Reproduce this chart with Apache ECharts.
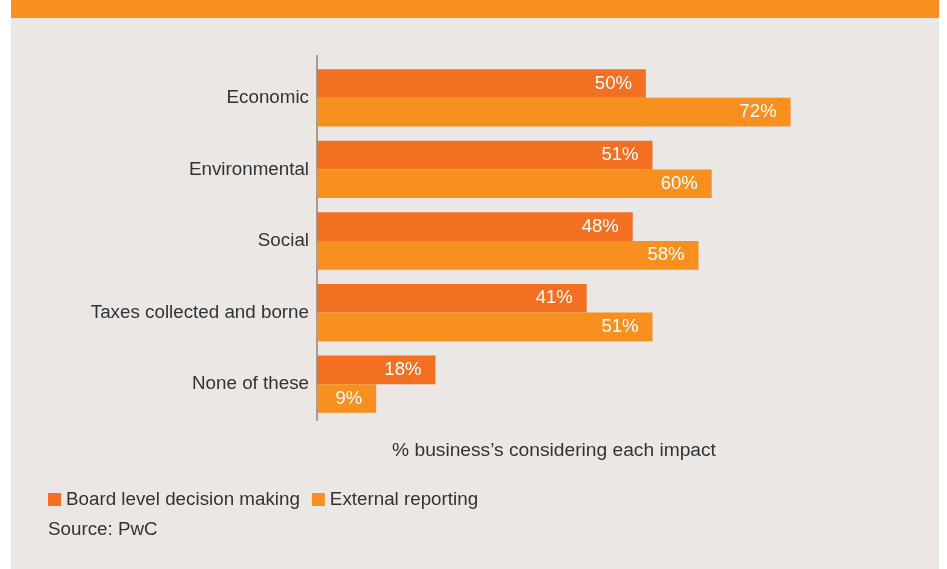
<!DOCTYPE html>
<html><head><meta charset="utf-8">
<script src="https://cdn.jsdelivr.net/npm/echarts@6/dist/echarts.min.js"></script>
<style>html,body{margin:0;padding:0;background:#fff;}#c{width:947px;height:569px;}</style>
</head><body><div id="c"></div>
<script>
const categories = ['Economic', 'Environmental', 'Social', 'Taxes collected and borne', 'None of these'];
const boardValues = [50, 51, 48, 41, 18];
const externalValues = [72, 60, 58, 51, 9];
const seriesNames = ['Board level decision making', 'External reporting'];
const axisTitle = '% business\u2019s considering each impact';
const sourceText = 'Source: PwC';

const FONT = '"Liberation Sans", Arial, Helvetica, sans-serif';
const FS = 18.8;
const chart = echarts.init(document.getElementById('c'), null, {renderer: 'canvas'});
const labelOpt = {show: true, position: 'insideRight', distance: 14, color: '#ffffff', fontSize: 18.5, fontFamily: FONT, formatter: p => p.value + '%'};
chart.setOption({
  animation: false,
  backgroundColor: '#ffffff',
  graphic: [
    {type: 'rect', left: 11, top: 0, shape: {width: 928, height: 569}, style: {fill: '#ebe7e4'}, z: -10},
    {type: 'rect', left: 11, top: 0, shape: {width: 928, height: 18}, style: {fill: '#f7901e'}, z: -9},
    {type: 'rect', left: 316, top: 55, shape: {width: 2, height: 8}, style: {fill: '#a59c95'}, z: 5}
  ],
  title: [
    {text: axisTitle, left: 549, top: 436, textAlign: 'center', textStyle: {fontSize: 19.2, fontWeight: 'normal', color: '#333333', fontFamily: FONT}},
    {text: sourceText, left: 43, top: 515, textStyle: {fontSize: FS, fontWeight: 'normal', color: '#333333', fontFamily: FONT}}
  ],
  legend: {
    left: 43, top: 485, itemWidth: 13, itemHeight: 13, itemGap: 12, icon: 'rect',
    textStyle: {fontSize: FS, color: '#333333', fontFamily: FONT},
    data: seriesNames
  },
  grid: {left: 317, top: 62, width: 592, height: 358, containLabel: false},
  xAxis: {type: 'value', min: 0, max: 90, show: false},
  yAxis: {
    type: 'category', data: categories, inverse: true,
    axisLine: {show: true, lineStyle: {color: '#a59c95', width: 2}},
    axisTick: {show: false},
    axisLabel: {fontSize: FS, color: '#333333', fontFamily: FONT, margin: 8, padding: [0, 0, 5, 0]},
    splitLine: {show: false}
  },
  series: [
    {name: seriesNames[0], type: 'bar', data: boardValues, barGap: '0%', barCategoryGap: '20%', itemStyle: {color: '#f36f21'}, label: labelOpt},
    {name: seriesNames[1], type: 'bar', data: externalValues, barGap: '0%', barCategoryGap: '20%', itemStyle: {color: '#f7901e'}, label: labelOpt}
  ]
});
</script></body></html>
